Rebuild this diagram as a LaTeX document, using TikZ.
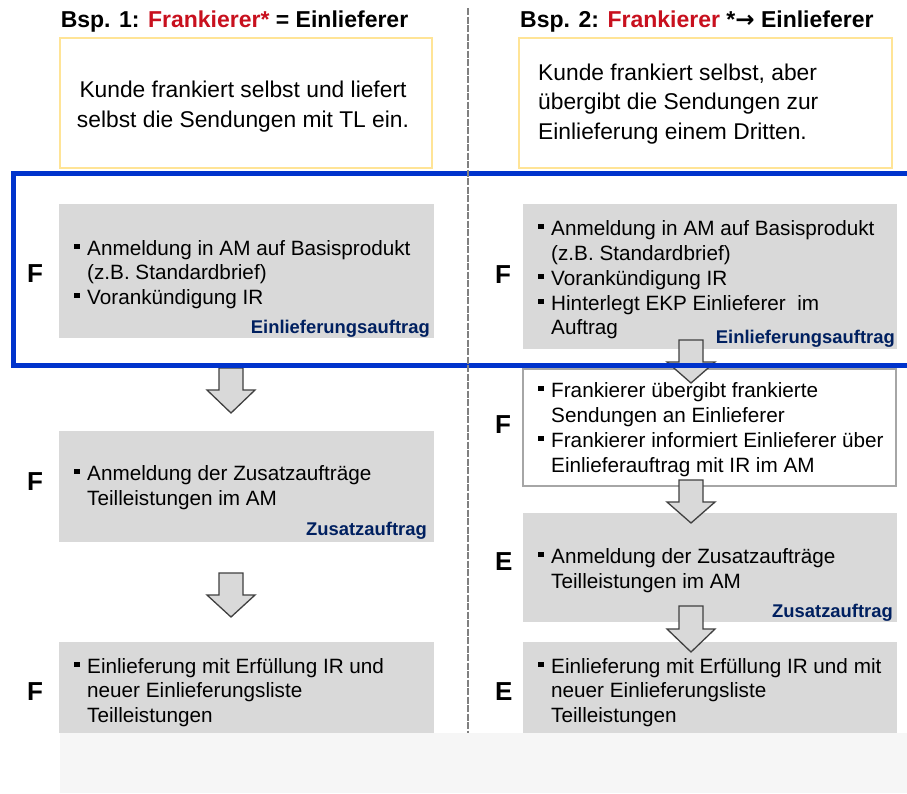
\documentclass[tikz,border=0pt]{standalone}
\usepackage{fontspec}
\setmainfont{Liberation Sans}
\newfontfamily\arrowfont{DejaVu Sans}
\usetikzlibrary{calc}
\definecolor{framecol}{RGB}{0,51,204}
\definecolor{boxgray}{RGB}{217,217,217}
\definecolor{navy}{RGB}{0,32,96}
\definecolor{fred}{RGB}{200,16,30}
\definecolor{ybord}{RGB}{255,228,150}
\definecolor{dashgray}{RGB}{128,128,128}
\definecolor{arrowline}{RGB}{64,64,64}
\definecolor{wbord}{RGB}{166,166,166}
\definecolor{footer}{RGB}{246,246,246}
\newcommand\bitem[3]{\node[body,anchor=base west] (#1) at (#2) {#3};
  \fill ($(#1.base west)+(-13,-6)$) rectangle ++(5.5,-5.5);}
\newcommand\bline[3]{\node[body,anchor=base west] (#1) at (#2) {#3};}
\newcommand\blockarr[5]{%
  \coordinate (#1-top) at (#2,#3);
  \coordinate (#1-tip) at (#2,#5);
  \draw[blockarrow] (#2-12,#3) -- (#2+12,#3) -- (#2+12,#4) -- (#2+24,#4) -- (#1-tip) -- (#2-24,#4) -- (#2-12,#4) -- cycle;}
\begin{document}
\begin{tikzpicture}[x=1pt,y=-1pt,
  graybox/.style={fill=boxgray, draw=none, inner sep=0pt, outer sep=0pt, anchor=north west},
  ybox/.style={fill=white, draw=ybord, line width=1.5pt, inner sep=0pt, outer sep=0pt, anchor=north west},
  wbox/.style={fill=white, draw=wbord, line width=2pt, inner sep=0pt, outer sep=0pt, anchor=north west},
  body/.style={inner sep=0pt, font=\fontsize{20.7}{24.8}\selectfont, text=black},
  ytxt/.style={inner sep=0pt, font=\fontsize{22.8}{29.5}\selectfont, text=black},
  title/.style={inner sep=0pt, font=\fontsize{23}{28}\selectfont\bfseries, text=black},
  tag/.style={inner sep=0pt, font=\fontsize{18.4}{22}\selectfont\bfseries, text=navy, anchor=base east},
  role/.style={inner sep=0pt, font=\fontsize{26}{30}\selectfont\bfseries, text=black, anchor=base west},
  blockarrow/.style={fill=boxgray, draw=arrowline, line width=1.3pt},
]
\clip (0,0) rectangle (907,793);
\fill[white] (0,0) rectangle (907,793);

% titles
\node[title,anchor=base] (t1) at (234.5,27) {Bsp. 1: \textcolor{fred}{Frankierer*} = Einlieferer};
\node[title,anchor=base west] (t2) at (520,27) {Bsp. 2: \textcolor{fred}{Frankierer} *{\arrowfont\bfseries →} Einlieferer};

% yellow boxes
\node[ybox, minimum width=372pt, minimum height=130pt] (y1) at (60,38) {};
\node[ybox, minimum width=373pt, minimum height=130pt] (y2) at (519,38) {};
\node[ytxt,anchor=base] (y1a) at (243,97) {Kunde frankiert selbst und liefert};
\node[ytxt,anchor=base] (y1b) at (243,127) {selbst die Sendungen mit TL ein.};
\node[ytxt,anchor=base west] (y2a) at (538,80) {Kunde frankiert selbst, aber};
\node[ytxt,anchor=base west] (y2b) at (538,109.5) {übergibt die Sendungen zur};
\node[ytxt,anchor=base west] (y2c) at (538,139) {Einlieferung einem Dritten.};

% left column boxes
\node[graybox, minimum width=375pt, minimum height=134pt] (L1) at (59,204) {};
\node[graybox, minimum width=375pt, minimum height=111pt] (L2) at (59,431) {};
\node[graybox, minimum width=375pt, minimum height=91pt] (L3) at (59,642) {};
% right column boxes
\node[graybox, minimum width=374pt, minimum height=145pt] (R1) at (523,204) {};
\node[wbox, minimum width=373pt, minimum height=117pt] (R2) at (523,369) {};
\node[graybox, minimum width=374pt, minimum height=109pt] (R3) at (523,513) {};
\node[graybox, minimum width=374pt, minimum height=91pt] (R4) at (523,642) {};

% left box 1
\bitem{a1}{87,255}{Anmeldung in AM auf Basisprodukt}
\bline{a2}{87,279.5}{(z.B. Standardbrief)}
\bitem{a3}{87,304}{Vorankündigung IR}
\node[tag] (a4) at (430,333) {Einlieferungsauftrag};
\node[role] (aF) at (27,282) {F};

% left box 2
\bitem{c1}{87,480}{Anmeldung der Zusatzaufträge}
\bline{c2}{87,505}{Teilleistungen im AM}
\node[tag] (c3) at (427,535) {Zusatzauftrag};
\node[role] (cF) at (27,490) {F};

% left box 3
\bitem{d1}{87,673}{Einlieferung mit Erfüllung IR und}
\bline{d2}{87,697.5}{neuer Einlieferungsliste}
\bline{d3}{87,722}{Teilleistungen}
\node[role] (dF) at (27,700) {F};

% right box 1
\bitem{b1}{551,235}{Anmeldung in AM auf Basisprodukt}
\bline{b2}{551,260}{(z.B. Standardbrief)}
\bitem{b3}{551,285}{Vorankündigung IR}
\bitem{b4}{551,310}{Hinterlegt EKP Einlieferer\ \ im}
\bline{b5}{551,334}{Auftrag}
\node[tag] (b6) at (895,343) {Einlieferungsauftrag};
\node[role] (bF) at (495,283) {F};

% right box 2 (white)
\bitem{e1}{551,397}{Frankierer übergibt frankierte}
\bline{e2}{551,422}{Sendungen an Einlieferer}
\bitem{e3}{551,447}{Frankierer informiert Einlieferer über}
\bline{e4}{551,472}{Einlieferauftrag mit IR im AM}
\node[role] (eF) at (495,433) {F};

% right box 3
\bitem{f1}{551,563}{Anmeldung der Zusatzaufträge}
\bline{f2}{551,588}{Teilleistungen im AM}
\node[tag] (f3) at (893,617) {Zusatzauftrag};
\node[role] (fE) at (495,570) {E};

% right box 4
\bitem{g1}{551,673}{Einlieferung mit Erfüllung IR und mit}
\bline{g2}{551,697.5}{neuer Einlieferungsliste}
\bline{g3}{551,722}{Teilleistungen}
\node[role] (gE) at (495,700) {E};

% arrows
\blockarr{A1}{231}{368}{390}{413}
\blockarr{A2}{231}{573}{595}{617}
\blockarr{B1}{691}{340}{362}{383}
\blockarr{B2}{691}{480}{502}{523}
\blockarr{B3}{691}{606}{629}{652}

% blue frame
\draw[framecol, line width=5pt] (13.5,173.5) rectangle (920,365);

% dashed separator
\coordinate (s1) at (468,8);
\coordinate (s2) at (468,733);
\draw[dashgray, line width=2pt, dash pattern=on 7pt off 1.5pt] (s1) -- (s2);

% footer band
\fill[footer] (60,733) rectangle (907,793);
\end{tikzpicture}
\end{document}
